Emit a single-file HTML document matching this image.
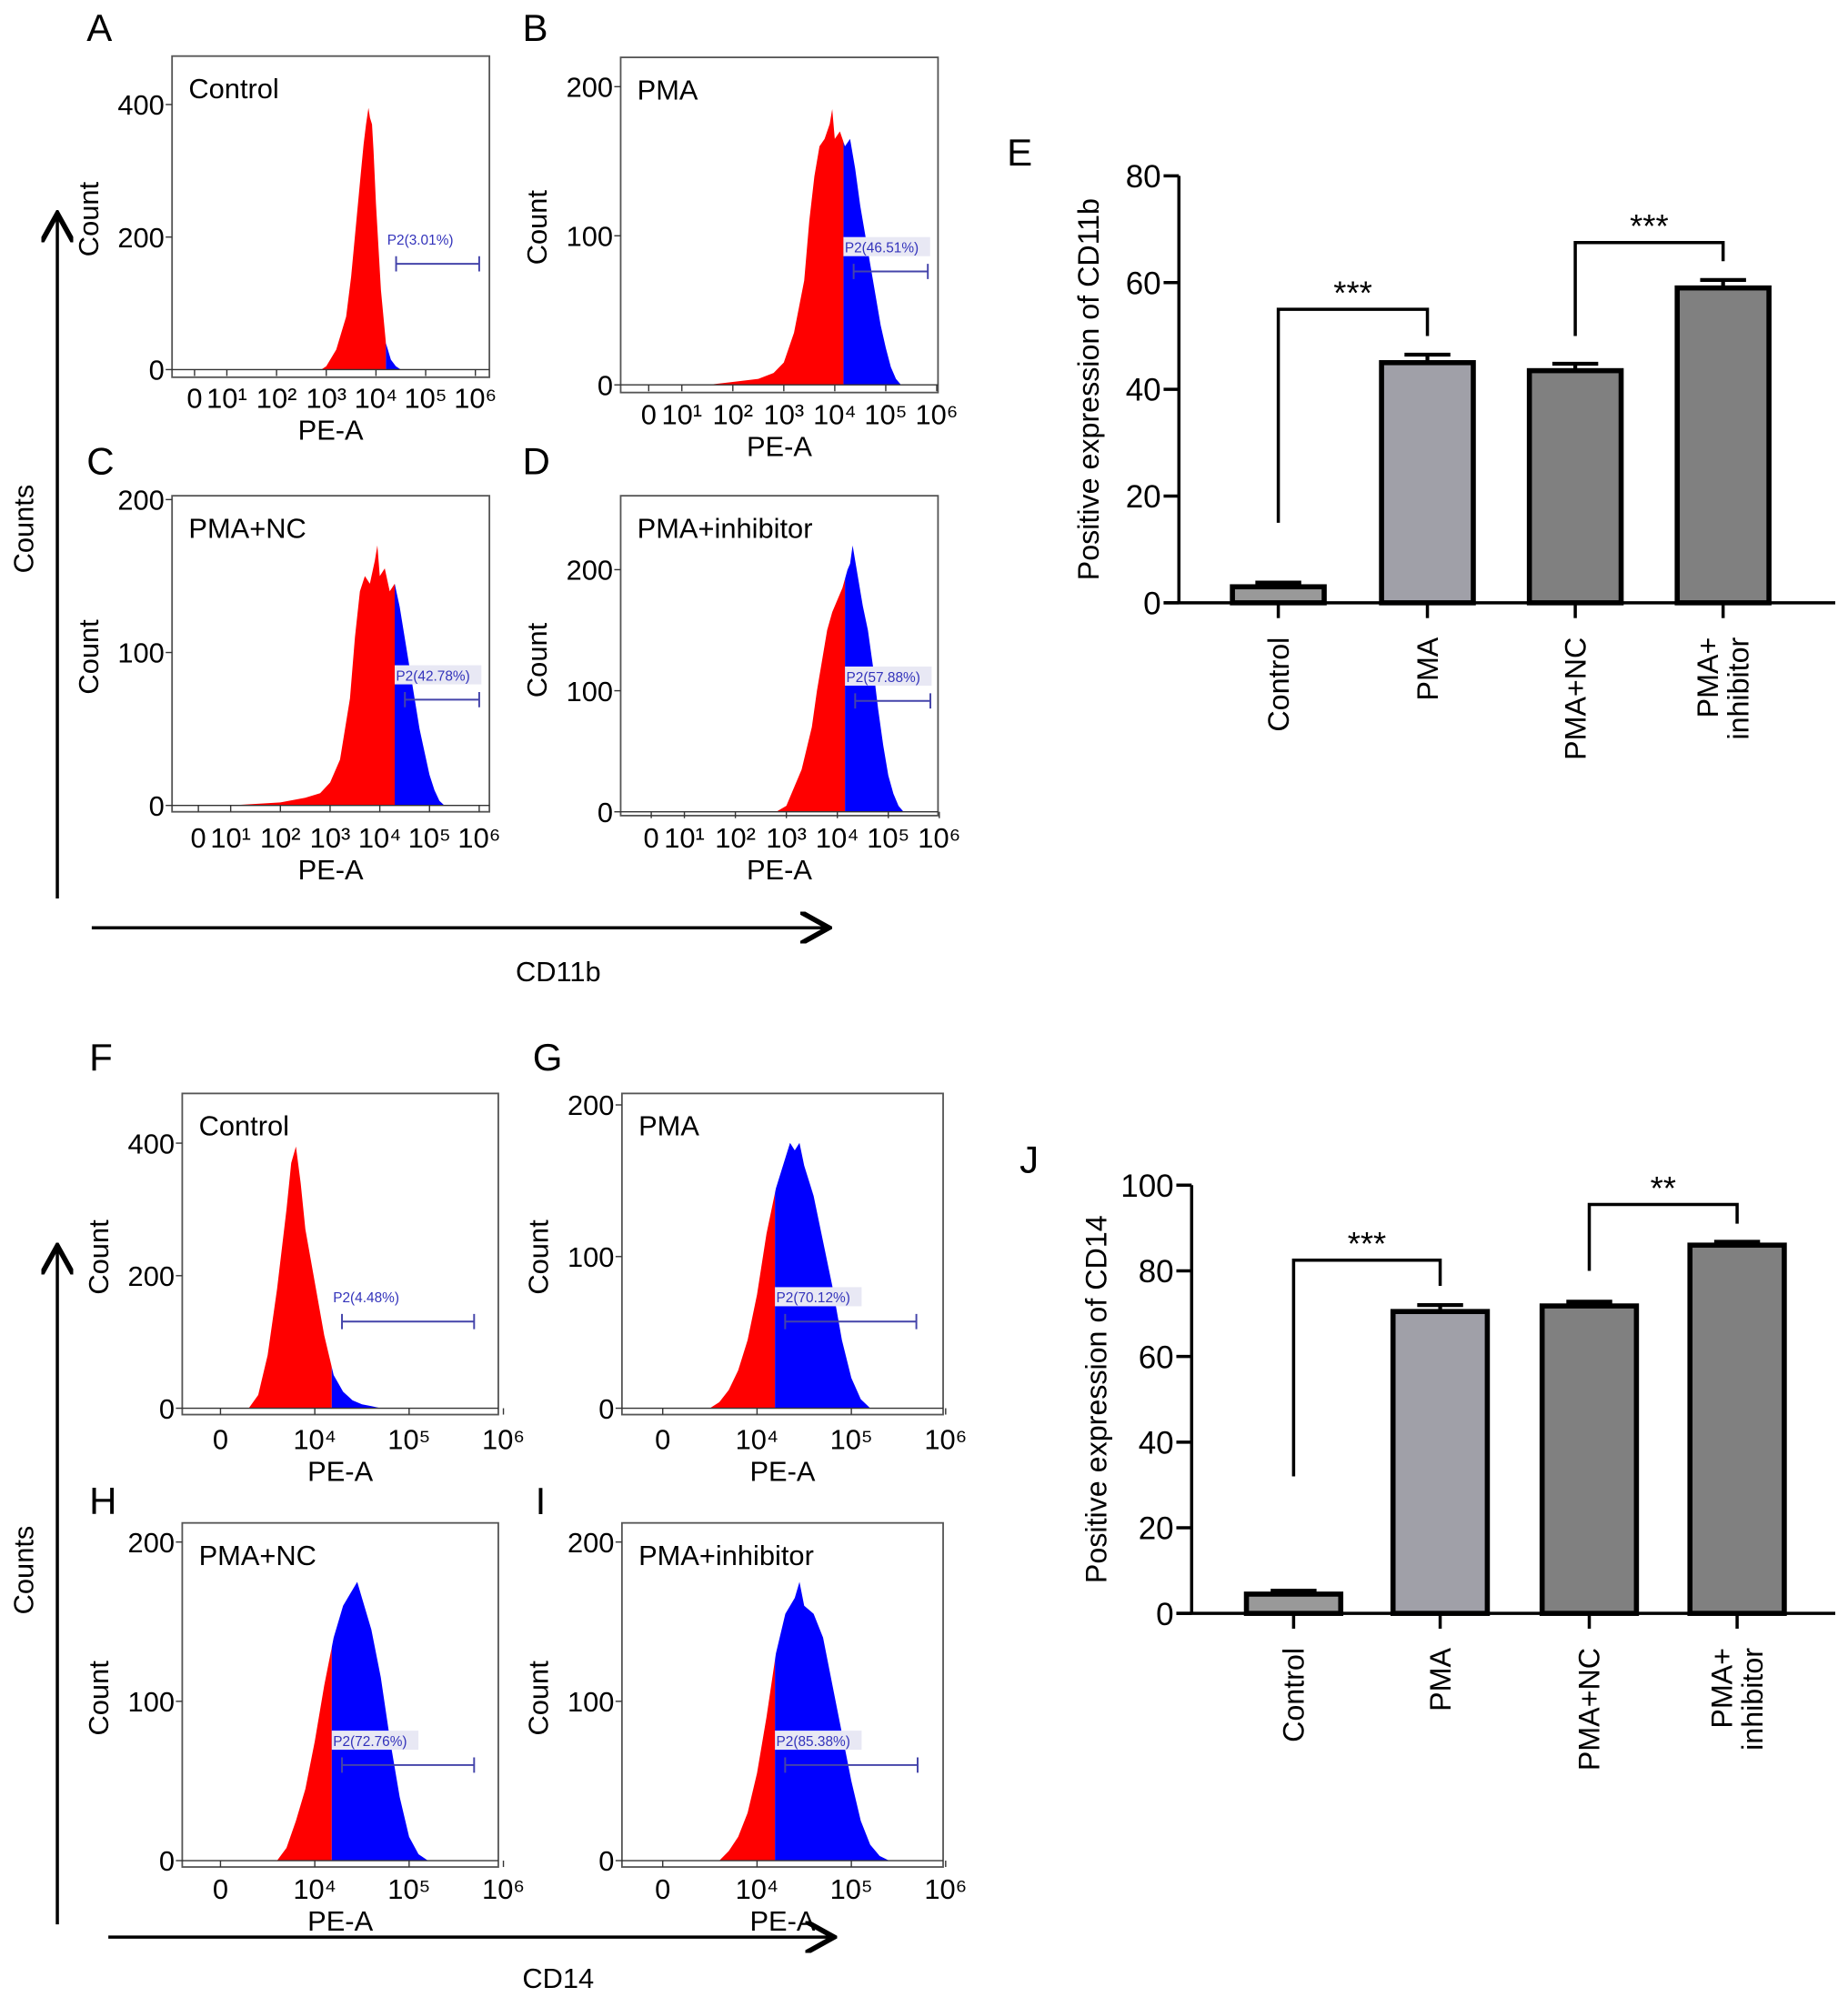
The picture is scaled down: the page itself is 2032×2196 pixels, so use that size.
<!DOCTYPE html>
<html><head><meta charset="utf-8"><style>
html,body{margin:0;padding:0;background:#fff;}
svg{display:block;font-family:"Liberation Sans",Arial,sans-serif;}
</style></head><body>
<svg id="fig" width="2032" height="2196" viewBox="0 0 1450 1567" xmlns="http://www.w3.org/2000/svg">
<defs>
<marker id="arr" markerWidth="10" markerHeight="10" refX="8" refY="5" orient="auto"><path d="M0,0 L9,5 L0,10" fill="none" stroke="#000" stroke-width="1.6"/></marker>
</defs>
<g id="static">
<line x1="45" y1="705" x2="45" y2="170" stroke="#000" stroke-width="2.5" marker-end="url(#arr)"/>
<line x1="72" y1="728" x2="648" y2="728" stroke="#000" stroke-width="2.5" marker-end="url(#arr)"/>
<text x="26" y="415" font-size="22" text-anchor="middle" transform="rotate(-90 26 415)">Counts</text>
<text x="438" y="770" font-size="22" text-anchor="middle">CD11b</text>
<line x1="45" y1="1510" x2="45" y2="980" stroke="#000" stroke-width="2.5" marker-end="url(#arr)"/>
<line x1="85" y1="1520" x2="652" y2="1520" stroke="#000" stroke-width="2.5" marker-end="url(#arr)"/>
<text x="26" y="1232" font-size="22" text-anchor="middle" transform="rotate(-90 26 1232)">Counts</text>
<text x="438" y="1560" font-size="22" text-anchor="middle">CD14</text>
</g>
</svg>
<script>
const NS="http://www.w3.org/2000/svg";
const svg=document.getElementById('fig');
function mk(tag,attrs,parent){const e=document.createElementNS(NS,tag);for(const k in attrs)e.setAttribute(k,attrs[k]);(parent||svg).appendChild(e);return e;}

// ---------- histogram data (log10 intensity, counts) ----------
const histA_u=[2.9,3.0,3.2,3.4,3.5,3.6,3.7,3.75,3.8,3.85,3.88,3.92,3.95,4.0,4.1,4.2,4.3,4.4,4.5];
const histA_c=[0,5,30,80,140,220,300,340,370,395,380,370,330,250,120,40,15,5,0];
const histB_u=[1.5,2.0,2.5,2.8,3.0,3.2,3.4,3.5,3.6,3.7,3.8,3.9,3.95,4.0,4.1,4.2,4.3,4.4,4.5,4.6,4.7,4.8,4.9,5.0,5.1,5.2,5.3];
const histB_c=[0,2,4,8,15,35,70,110,140,160,165,175,185,165,170,160,165,145,120,100,80,60,40,25,12,4,0];
const histC_u=[1.0,2.0,2.5,2.8,3.0,3.2,3.4,3.5,3.6,3.7,3.8,3.9,3.95,4.0,4.1,4.2,4.3,4.4,4.5,4.6,4.7,4.8,4.9,5.0,5.1,5.2,5.3];
const histC_c=[0,2,5,8,15,30,70,110,140,150,145,160,170,150,155,140,145,130,110,90,70,50,35,20,10,3,0];
const histD_u=[2.8,3.0,3.1,3.3,3.5,3.6,3.7,3.8,3.9,4.0,4.1,4.2,4.25,4.3,4.4,4.5,4.6,4.7,4.8,4.9,5.0,5.1,5.2,5.3];
const histD_c=[0,5,15,35,70,100,125,150,165,175,185,200,205,220,195,170,150,120,85,55,30,15,5,0];
const histF_u=[3.3,3.4,3.5,3.6,3.7,3.75,3.8,3.85,3.9,4.0,4.1,4.2,4.3,4.4,4.5,4.6,4.7];
const histF_c=[0,20,80,180,300,370,395,340,270,190,110,50,25,12,6,3,0];
const histG_u=[3.5,3.6,3.7,3.8,3.9,4.0,4.1,4.2,4.3,4.35,4.4,4.45,4.5,4.6,4.7,4.8,4.9,5.0,5.1,5.2];
const histG_c=[0,4,12,25,45,75,115,145,165,175,170,175,160,140,110,80,45,20,6,0];
const histH_u=[3.6,3.7,3.8,3.9,4.0,4.1,4.2,4.3,4.4,4.45,4.5,4.6,4.7,4.8,4.9,5.0,5.1,5.2];
const histH_c=[0,8,25,45,75,110,140,160,170,175,165,145,115,75,40,15,4,0];
const histI_u=[3.6,3.7,3.8,3.9,4.0,4.1,4.2,4.3,4.4,4.45,4.5,4.6,4.7,4.8,4.9,5.0,5.1,5.2,5.3,5.4];
const histI_c=[0,6,15,30,55,90,130,155,165,175,160,155,140,110,80,50,25,10,3,0];

const logTicksA=["0","10¹","10²","10³","10⁴","10⁵","10⁶"];
const logTicksF=["0","10⁴","10⁵","10⁶"];

// ---------- bar chart data ----------
const barCats=["Control","PMA","PMA+NC","PMA+\ninhibitor"];
const cd11bVals=[3,45,43.5,59];
const cd11bErr=[0.8,1.5,1.3,1.5];
const cd14Vals=[4.5,70.5,71.8,86];
const cd14Err=[0.8,1.5,1.0,0.8];
const cd11bTicks=[0,20,40,60,80];
const cd14Ticks=[0,20,40,60,80,100];

const panels=[
 {id:'a',letter:'A',lx:68,ly:32,title:'Control',fr:[135,44,384,296],base:290,ppu:208/400,yt:[0,200,400],x0:139,dec:39,tu:[0.35,1,2,3,4,5,6],tl:logTicksA,tly:320,gate:4.2,gl:'P2(3.01%)',gy:207,gx2:376,box:false,u:histA_u,c:histA_c},
 {id:'b',letter:'B',lx:410,ly:32,title:'PMA',fr:[487,45,736,308],base:302,ppu:117/100,yt:[0,100,200],x0:495,dec:40,tu:[0.35,1,2,3,4,5,6],tl:logTicksA,tly:333,gate:4.17,gl:'P2(46.51%)',gy:213,gx2:728,box:true,u:histB_u,c:histB_c},
 {id:'c',letter:'C',lx:68,ly:372,title:'PMA+NC',fr:[135,389,384,637],base:632,ppu:120/100,yt:[0,100,200],x0:142,dec:39,tu:[0.35,1,2,3,4,5,6],tl:logTicksA,tly:665,gate:4.3,gl:'P2(42.78%)',gy:549,gx2:376,box:true,u:histC_u,c:histC_c},
 {id:'d',letter:'D',lx:410,ly:372,title:'PMA+inhibitor',fr:[487,389,736,640],base:637,ppu:95/100,yt:[0,100,200],x0:497,dec:40,tu:[0.35,1,2,3,4,5,6],tl:logTicksA,tly:665,gate:4.15,gl:'P2(57.88%)',gy:550,gx2:730,box:true,u:histD_u,c:histD_c},
 {id:'f',letter:'F',lx:70,ly:840,title:'Control',fr:[143,858,391,1110],base:1105,ppu:104/200,yt:[0,200,400],x0:-49,dec:74,tu:[3,4,5,6],tl:logTicksF,tly:1137,gate:4.18,gl:'P2(4.48%)',gy:1037,gx2:372,box:false,u:histF_u,c:histF_c},
 {id:'g',letter:'G',lx:418,ly:840,title:'PMA',fr:[488,858,740,1110],base:1105,ppu:119/100,yt:[0,100,200],x0:298,dec:74,tu:[3,4,5,6],tl:logTicksF,tly:1137,gate:4.19,gl:'P2(70.12%)',gy:1037,gx2:719,box:true,u:histG_u,c:histG_c},
 {id:'h',letter:'H',lx:70,ly:1188,title:'PMA+NC',fr:[143,1195,391,1465],base:1460,ppu:125/100,yt:[0,100,200],x0:-49,dec:74,tu:[3,4,5,6],tl:logTicksF,tly:1490,gate:4.18,gl:'P2(72.76%)',gy:1385,gx2:372,box:true,u:histH_u,c:histH_c},
 {id:'i',letter:'I',lx:420,ly:1188,title:'PMA+inhibitor',fr:[488,1195,740,1465],base:1460,ppu:125/100,yt:[0,100,200],x0:298,dec:74,tu:[3,4,5,6],tl:logTicksF,tly:1490,gate:4.19,gl:'P2(85.38%)',gy:1385,gx2:720,box:true,u:histI_u,c:histI_c}
];

panels.forEach(p=>{
 const g=mk('g',{});
 
 
 const xs=u=>p.x0+p.dec*u;
 const ys=c=>p.base-c*p.ppu;
 const [x1,y1,x2,y2]=p.fr;
 const fr=mk('rect',{x:x1,y:y1,width:x2-x1,height:y2-y1,fill:'#fff',stroke:'#555','stroke-width':1.3},g);
 
 
 const gx=xs(p.gate);
 mk('clipPath',{id:'cl'+p.id},g).appendChild(mk('rect',{x:x1,y:y1,width:gx-x1,height:y2-y1},g));
 mk('clipPath',{id:'cr'+p.id},g).appendChild(mk('rect',{x:gx,y:y1,width:x2-gx,height:y2-y1},g));
 let pts=p.u.map((u,i)=>xs(u).toFixed(1)+','+ys(p.c[i]).toFixed(1)).join(' ');
 pts+=' '+xs(p.u[p.u.length-1]).toFixed(1)+','+p.base+' '+xs(p.u[0]).toFixed(1)+','+p.base;
 const red=mk('polygon',{points:pts,fill:'#f00','clip-path':'url(#cl'+p.id+')'},g);
 
 
 const blue=mk('polygon',{points:pts,fill:'#00f','clip-path':'url(#cr'+p.id+')'},g);
 
 
 mk('line',{x1:x1,y1:p.base,x2:x2,y2:p.base,stroke:'#333','stroke-width':1},g);
 // gate
 const gl=mk('path',{d:`M${gx+8},${p.gy-6}V${p.gy+6}M${gx+8},${p.gy}H${p.gx2}M${p.gx2},${p.gy-6}V${p.gy+6}`,stroke:'#44a',fill:'none','stroke-width':1.4},g);
 
 
 if(p.box){
  const bx=mk('rect',{x:gx,y:p.gy-27,width:68,height:15,fill:'#e8e8f4'},g);
  
  
 }
 const gt=mk('text',{x:gx+1,y:p.gy-15,'font-size':11,fill:'#33b'},g);
 gt.textContent=p.gl;
 
 
 p.yt.forEach(v=>{
  const y=ys(v);
  mk('line',{x1:x1-5,y1:y,x2:x1,y2:y,stroke:'#333'},g);
  const t=mk('text',{x:x1-6,y:y+8,'font-size':22,'text-anchor':'end'},g);
  t.textContent=v;
  
  
 });
 p.tu.forEach((u,i)=>{
  const x=xs(u);
  mk('line',{x1:x,y1:p.base,x2:x,y2:p.base+5,stroke:'#333'},g);
  const t=mk('text',{x:x,y:p.tly,'font-size':22,'text-anchor':'middle'},g);
  t.textContent=p.tl[i];
  
  
 });
 const xl=mk('text',{x:(x1+x2)/2,y:p.tly+25,'font-size':22,'text-anchor':'middle'},g);
 xl.textContent='PE-A';
 
 
 const yx=x1-58,yy=(y1+p.base)/2+5;
 const yl=mk('text',{x:yx,y:yy,'font-size':22,'text-anchor':'middle',transform:`rotate(-90 ${yx} ${yy})`},g);
 yl.textContent='Count';
 
 
 const tt=mk('text',{x:x1+13,y:y1+33,'font-size':22},g);
 tt.textContent=p.title;
 
 
 const lt=mk('text',{x:p.lx,y:p.ly,'font-size':30},g);
 lt.textContent=p.letter;
 
 
});

// ---------- bar charts ----------
const bars=[
 {id:'e',letter:'E',lx:790,ly:130,ax:925,top:138,zero:473,ymax:80,vals:cd11bVals,err:cd11bErr,ticks:cd11bTicks,centers:[1003,1120,1236,1352],bw:72,xend:1440,ylab:'Positive expression of CD11b',ylx:862,
  br:[{a:0,b:1,ay:15,ty:55,by:50,st:'***'},{a:2,b:3,ay:50,ty:67.5,by:64,st:'***'}]},
 {id:'j',letter:'J',lx:800,ly:920,ax:935,top:930,zero:1266,ymax:100,vals:cd14Vals,err:cd14Err,ticks:cd14Ticks,centers:[1015,1130,1247,1363],bw:74,xend:1440,ylab:'Positive expression of CD14',ylx:868,
  br:[{a:0,b:1,ay:32,ty:82.5,by:76.5,st:'***'},{a:2,b:3,ay:80,ty:95.5,by:91,st:'**'}]}
];
const fills=['#999','#a0a0a8','#808080','#808080'];
bars.forEach(B=>{
 const g=mk('g',{});
 
 
 const ys=v=>B.zero-(v/B.ymax)*(B.zero-B.top);
 const lt=mk('text',{x:B.lx,y:B.ly,'font-size':30},g);
 lt.textContent=B.letter;
 
 
 B.vals.forEach((v,i)=>{
  const cx=B.centers[i];
  const eb=mk('path',{d:`M${cx},${ys(v)}V${ys(v+B.err[i])}M${cx-18},${ys(v+B.err[i])}H${cx+18}`,stroke:'#000','stroke-width':3,fill:'none'},g);
  
  
  const r=mk('rect',{x:cx-B.bw/2,y:ys(v),width:B.bw,height:B.zero-ys(v),fill:fills[i],stroke:'#000','stroke-width':4},g);
  
  
  mk('line',{x1:cx,y1:B.zero,x2:cx,y2:B.zero+12,stroke:'#000','stroke-width':2.5},g);
  const lines=barCats[i].split('\n');
  lines.forEach((ln,k)=>{
   const tx=cx+(k-(lines.length-1)/2)*24+8, ty=B.zero+27;
   const t=mk('text',{x:tx,y:ty,'font-size':23,'text-anchor':'end',transform:`rotate(-90 ${tx} ${ty})`},g);
   t.textContent=ln;
   
   
  });
 });
 mk('line',{x1:B.ax,y1:B.top,x2:B.ax,y2:B.zero,stroke:'#000','stroke-width':2.5},g);
 mk('line',{x1:B.ax-12,y1:B.zero,x2:B.xend,y2:B.zero,stroke:'#000','stroke-width':2.5},g);
 B.ticks.forEach(v=>{
  mk('line',{x1:B.ax-12,y1:ys(v),x2:B.ax,y2:ys(v),stroke:'#000','stroke-width':2.5},g);
  const t=mk('text',{x:B.ax-14,y:ys(v)+9,'font-size':25,'text-anchor':'end'},g);
  t.textContent=v;
  
  
 });
 const yc=(B.top+B.zero)/2;
 const yl=mk('text',{x:B.ylx,y:yc,'font-size':23,'text-anchor':'middle',transform:`rotate(-90 ${B.ylx} ${yc})`},g);
 yl.textContent=B.ylab;
 
 
 B.br.forEach(s=>{
  const xa=B.centers[s.a],xb=B.centers[s.b];
  const p=mk('path',{d:`M${xa},${ys(s.ay)}V${ys(s.ty)}H${xb}V${ys(s.by)}`,stroke:'#000','stroke-width':2.5,fill:'none'},g);
  
  
  const t=mk('text',{x:(xa+xb)/2,y:ys(s.ty)-4,'font-size':26,'text-anchor':'middle'},g);
  t.textContent=s.st;
  
  
 });
});
</script>
</body></html>
